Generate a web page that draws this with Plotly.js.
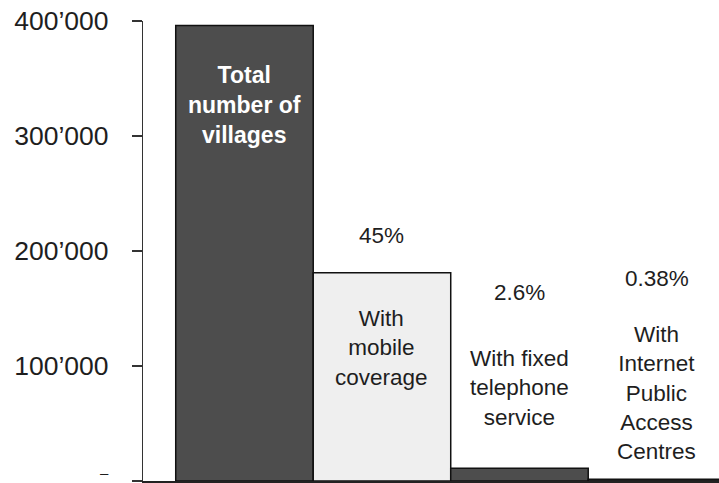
<!DOCTYPE html>
<html>
<head>
<meta charset="utf-8">
<script src="https://cdn.plot.ly/plotly-3.0.1.min.js"></script>
<style>
  html, body { margin: 0; padding: 0; background: #ffffff; }
  #chart { width: 719px; height: 483px; }
</style>
</head>
<body>
<div id="chart"></div>
<script>
// ---- Data ----
const categories = ["Total number of villages", "With mobile coverage", "With fixed telephone service", "With Internet Public Access Centres"];
const villageCounts = [396000, 181000, 11000, 1500];
const barColors = ["#4d4d4d", "#efefef", "#4d4d4d", "#4d4d4d"];
const barLabels = ["Total<br>number of<br>villages", "With<br>mobile<br>coverage", "With fixed<br>telephone<br>service", "With<br>Internet<br>Public<br>Access<br>Centres"];
const labelY = [326700, 115600, 80800, 76500];
const percentLabels = ["", "45%", "2.6%", "0.38%"];
const percentY = [0, 213700, 164200, 176400];
const tickVals = [0, 100000, 200000, 300000, 400000];
const tickText = ["", "100\u2019000", "200\u2019000", "300\u2019000", "400\u2019000"];
const zeroLabel = "\u2013";

const xIdx = categories.map((c, i) => i);

const trace = {
  type: "bar",
  x: xIdx,
  y: villageCounts,
  width: 1,
  marker: { color: barColors, line: { color: "#111111", width: 1.5 } },
  hoverinfo: "skip"
};

const annotations = [];
barLabels.forEach((t, i) => {
  annotations.push({
    x: xIdx[i], y: labelY[i], xref: "x", yref: "y", text: t, showarrow: false,
    font: { family: "Liberation Sans, Arial, sans-serif", size: i === 0 ? 23 : 22.5, color: i === 0 ? "#ffffff" : "#1e1e1e", weight: i === 0 ? "bold" : "normal" },
    align: "center", xanchor: "center", yanchor: "middle"
  });
});
percentLabels.forEach((t, i) => {
  if (!t) return;
  annotations.push({
    x: xIdx[i], y: percentY[i], xref: "x", yref: "y", text: t, showarrow: false,
    font: { family: "Liberation Sans, Arial, sans-serif", size: 22.5, color: "#1e1e1e" },
    xanchor: "center", yanchor: "middle"
  });
});
// zero tick label ("-"), kept inside the page so it is not cut off
annotations.push({
  x: 0, xref: "paper", y: tickVals[0], yref: "y", text: zeroLabel, showarrow: false,
  font: { family: "Liberation Sans, Arial, sans-serif", size: 15, color: "#1e1e1e" },
  xanchor: "right", yanchor: "bottom", xshift: -32, yshift: -2
});

const layout = {
  width: 719, height: 483,
  margin: { l: 143, r: 0, t: 21, b: 2 },
  paper_bgcolor: "#ffffff", plot_bgcolor: "#ffffff",
  showlegend: false,
  bargap: 0,
  xaxis: {
    range: [-0.738, 3.451], showticklabels: false, ticks: "", showgrid: false, zeroline: false,
    showline: true, linecolor: "#222222", linewidth: 2, fixedrange: true
  },
  yaxis: {
    range: [0, 400000], tickvals: tickVals, ticktext: tickText,
    ticks: "outside", ticklen: 10, tickwidth: 1.2, tickcolor: "#333333",
    showline: true, linecolor: "#333333", linewidth: 1.2,
    showgrid: false, zeroline: false, ticklabelstandoff: 18,
    tickfont: { family: "Liberation Sans, Arial, sans-serif", size: 26.5, color: "#1e1e1e" },
    fixedrange: true
  },
  annotations: annotations
};

Plotly.newPlot("chart", [trace], layout, { displayModeBar: false, staticPlot: true });
</script>
</body>
</html>
